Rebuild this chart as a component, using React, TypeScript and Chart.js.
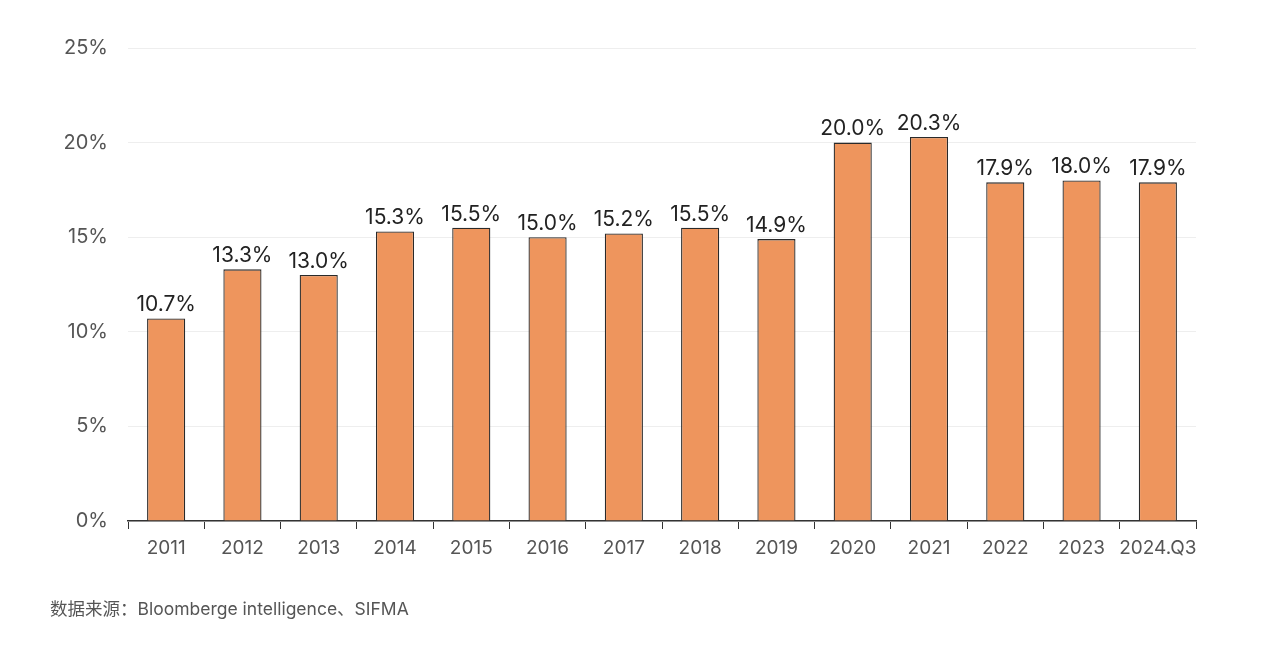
import { useEffect, useRef } from "react"
import { Chart, registerables, type ChartConfiguration, type Plugin } from "chart.js"

Chart.register(...registerables)

const categories = ["2011", "2012", "2013", "2014", "2015", "2016", "2017", "2018", "2019", "2020", "2021", "2022", "2023", "2024.Q3"]
const shareValues = [10.7, 13.3, 13.0, 15.3, 15.5, 15.0, 15.2, 15.5, 14.9, 20.0, 20.3, 17.9, 18.0, 17.9]
const yTicks = [0, 5, 10, 15, 20, 25]
const sourceNote = "数据来源：Bloomberge intelligence、SIFMA"

const FONT = "Inter, 'Noto Sans', 'Noto Sans CJK SC', sans-serif"

// labels above each bar
const barLabels: Plugin<"bar"> = {
  id: "barLabels",
  afterDatasetsDraw(chart) {
    const ctx = chart.ctx
    const meta = chart.getDatasetMeta(0)
    ctx.save()
    ctx.font = `21px ${FONT}`
    ctx.fillStyle = "#222"
    ctx.textAlign = "center"
    ctx.textBaseline = "bottom"
    meta.data.forEach((bar, i) => {
      ctx.fillText(shareValues[i].toFixed(1) + "%", bar.x, bar.y - 3)
    })
    ctx.restore()
  },
}

export default function App() {
  const chartRef = useRef<HTMLCanvasElement>(null)
  const chartInstance = useRef<Chart | null>(null)

  useEffect(() => {
    if (!chartRef.current) return
    const ctx = chartRef.current.getContext("2d")
    if (!ctx) return
    if (chartInstance.current) chartInstance.current.destroy()

    const config: ChartConfiguration<"bar"> = {
      type: "bar",
      data: {
        labels: categories,
        datasets: [
          {
            data: shareValues,
            backgroundColor: "#EE955D",
            borderColor: "#2a2a2a",
            borderWidth: 1.3,
            categoryPercentage: 1,
            barPercentage: 0.5,
          },
        ],
      },
      options: {
        responsive: false,
        animation: false,
        layout: { padding: { top: 48, right: 84, bottom: 0, left: 0 } },
        plugins: {
          legend: { display: false },
          tooltip: { enabled: false },
        },
        scales: {
          x: {
            grid: {
              display: true,
              drawOnChartArea: false,
              drawTicks: true,
              tickLength: 8,
              color: "#333",
              offset: true,
            },
            border: { display: true, color: "#333", width: 1.5 },
            ticks: {
              color: "#555",
              font: { family: FONT, size: 19 },
              padding: 8,
              maxRotation: 0,
              autoSkip: false,
            },
            afterFit(scale) {
              scale.height = 124
            },
          },
          y: {
            min: 0,
            max: 25,
            afterBuildTicks(scale) {
              scale.ticks = yTicks.map((v) => ({ value: v }))
            },
            grid: { color: "#eeeeee", drawTicks: false },
            border: { display: false },
            ticks: {
              color: "#555",
              font: { family: FONT, size: 20 },
              padding: 20,
              callback: (v) => v + "%",
            },
            afterFit(scale) {
              scale.width = 128
            },
          },
        },
      },
      plugins: [barLabels],
    }

    chartInstance.current = new Chart(ctx, config)
    return () => {
      if (chartInstance.current) chartInstance.current.destroy()
    }
  }, [])

  return (
    <div style={{ position: "absolute", left: 0, top: 0, width: 1280, height: 645, background: "#fff" }}>
      <canvas ref={chartRef} width={1280} height={645} style={{ width: 1280, height: 645 }} />
      <div
        style={{
          position: "absolute",
          left: 50,
          top: 595,
          fontFamily: FONT,
          fontSize: 17.5,
          color: "#555",
        }}
      >
        {sourceNote}
      </div>
    </div>
  )
}
